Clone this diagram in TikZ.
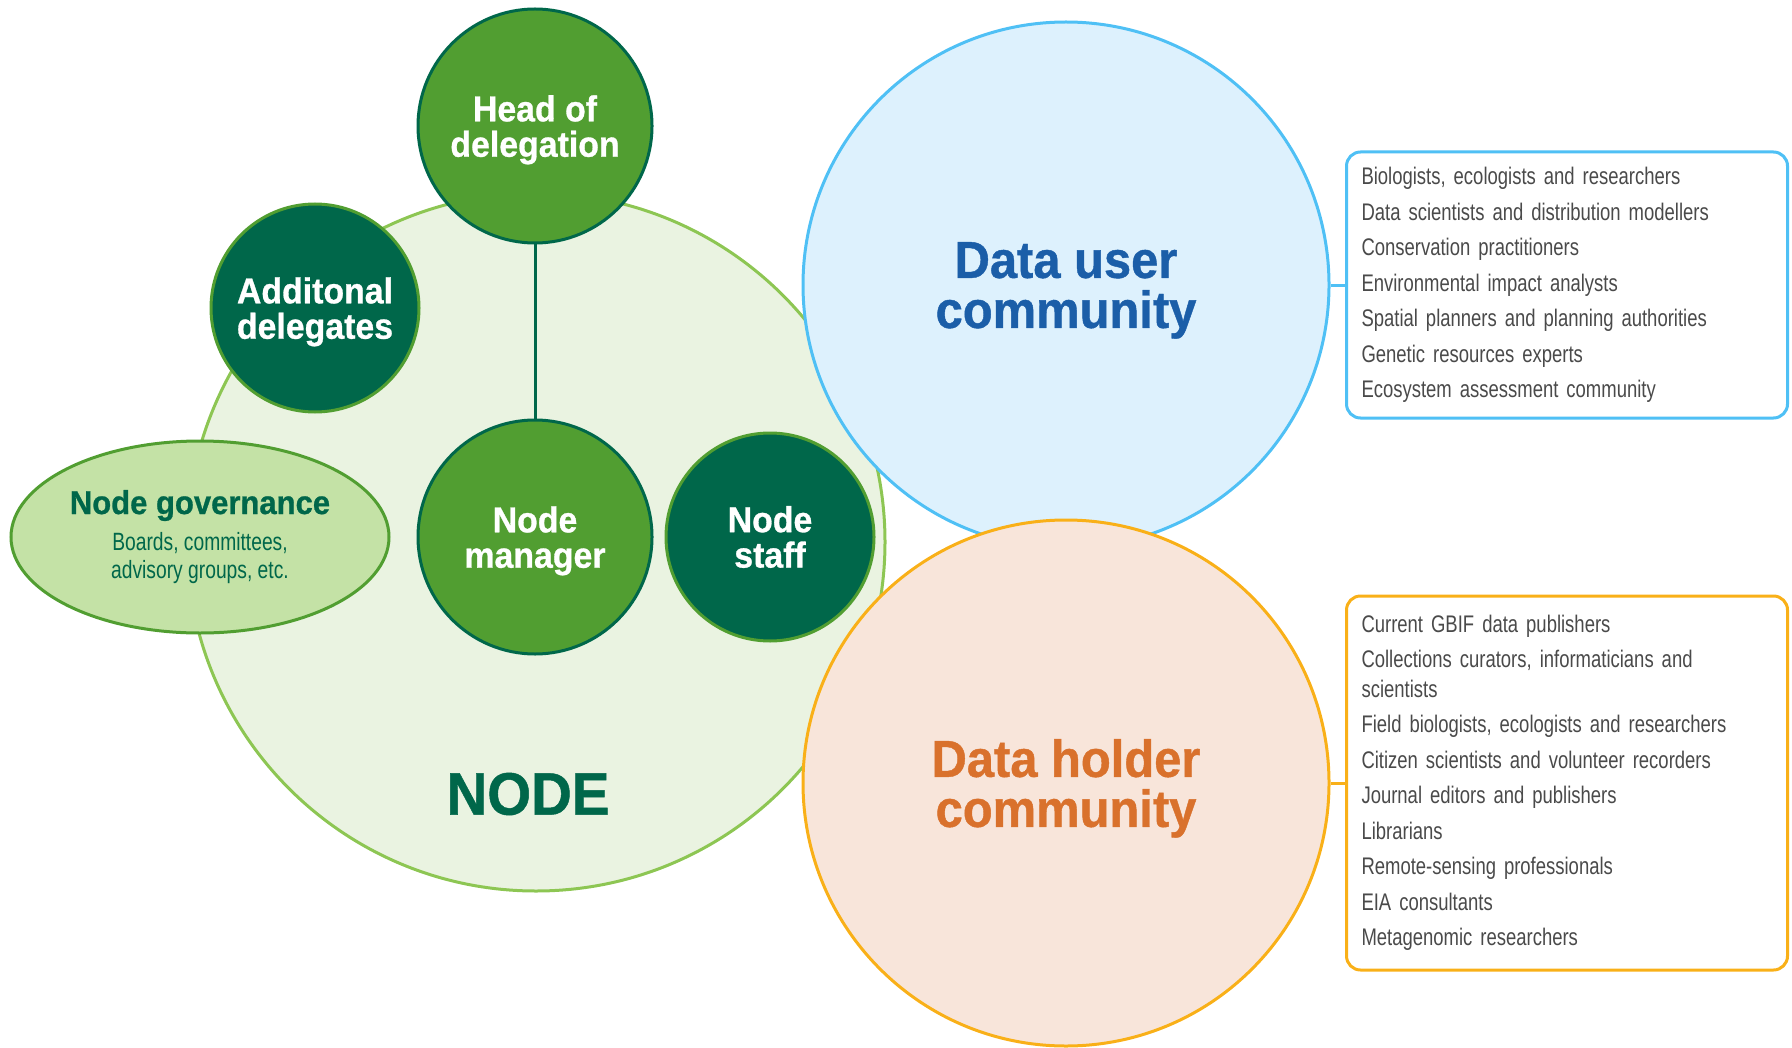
\documentclass[tikz,border=0pt]{standalone}
\usepackage{fontspec}
\setmainfont{Liberation Sans}
\newfontfamily\headfont[FakeStretch=0.94,FakeBold=0.8]{Liberation Sans Bold}
\newfontfamily\listfont[FakeStretch=0.77]{Liberation Sans}
\usetikzlibrary{shapes.geometric}

\definecolor{midgreen}{HTML}{519E31}
\definecolor{darkgreen}{HTML}{00674A}
\definecolor{palegreen}{HTML}{EAF3E1}
\definecolor{ringgreen}{HTML}{8DC653}
\definecolor{govgreen}{HTML}{C4E2A6}
\definecolor{userblue}{HTML}{4FC0F5}
\definecolor{userfill}{HTML}{DDF1FD}
\definecolor{usertext}{HTML}{1B5EA8}
\definecolor{holderorange}{HTML}{F9B018}
\definecolor{holderfill}{HTML}{F8E5DA}
\definecolor{holdertext}{HTML}{D9712C}
\definecolor{itemgray}{HTML}{4A4A4A}

\tikzset{
  role/.style={circle, line width=1.5pt, text=white, align=center, inner sep=0pt,
    font=\headfont\fontsize{18pt}{17.7pt}\selectfont},
  lead/.style={role, fill=midgreen, draw=darkgreen, minimum size=117pt},
  crew/.style={role, fill=darkgreen, draw=midgreen, minimum size=104pt},
  community/.style={circle, line width=1.5pt, minimum size=263pt, align=center,
    font=\headfont\fontsize{26pt}{25pt}\selectfont},
  members/.style={rectangle, rounded corners=7pt, line width=1.5pt, fill=white,
    anchor=west, inner xsep=7.5pt, text width=205.5pt, align=left,
    text=itemgray, font=\listfont\fontsize{12pt}{17.75pt}\selectfont},
}

\begin{document}
\begin{tikzpicture}[x=0.5pt, y=-0.5pt]
  \useasboundingbox (0,0) rectangle (1792,1048);

  \node[circle, fill=palegreen, draw=ringgreen, line width=1.5pt,
    minimum size=349pt] (nodearea) at (536,542) {};
  \node[text=darkgreen, font=\headfont\fontsize{30pt}{30pt}\selectfont]
    (nodetitle) at (528,794) {NODE};

  \node[community, fill=userfill, draw=userblue, text=usertext]
    (datauser) at (1066,285) {Data user\\\smash{community}};
  \node[community, fill=holderfill, draw=holderorange, text=holdertext]
    (dataholder) at (1066,783) {Data holder\\\smash{community}};

  \node[members, draw=userblue, minimum height=133pt] (userlist) at (1345,285) {
    Biologists, ecologists and researchers\\
    Data scientists and distribution modellers\\
    Conservation practitioners\\
    Environmental impact analysts\\
    Spatial planners and planning authorities\\
    Genetic resources experts\\
    Ecosystem assessment community};
  \node[members, draw=holderorange, minimum height=187pt] (holderlist) at (1345,783) {
    Current GBIF data publishers\\
    Collections curators, informaticians and\\[-3pt]
    scientists\\
    Field biologists, ecologists and researchers\\
    Citizen scientists and volunteer recorders\\
    Journal editors and publishers\\
    Librarians\\
    Remote-sensing professionals\\
    EIA consultants\\
    Metagenomic researchers};

  \draw[userblue, line width=1.5pt] (datauser) -- (userlist);
  \draw[holderorange, line width=1.5pt] (dataholder) -- (holderlist);

  \node[lead] (head) at (535,126) {Head of\\\smash{delegation}};
  \node[lead] (manager) at (535,537) {Node\\\smash{manager}};
  \node[crew] (extra) at (315,308) {Additonal\\\smash{delegates}};
  \node[crew] (staff) at (770,537) {Node\\staff};
  \node[ellipse, fill=govgreen, draw=midgreen, line width=1.5pt, text=darkgreen,
    minimum width=189pt, minimum height=96pt, inner sep=0pt, align=center]
    (governance) at (200,537) {{\headfont\fontsize{16.5pt}{19.5pt}\selectfont Node governance}\\[4.5pt]
    {\listfont\fontsize{12.5pt}{15pt}\selectfont Boards, committees,}\\[2.3pt]
    {\listfont\fontsize{12.5pt}{15pt}\selectfont advisory groups, etc.}};

  \draw[darkgreen, line width=1.5pt] (head) -- (manager);
\end{tikzpicture}
\end{document}
